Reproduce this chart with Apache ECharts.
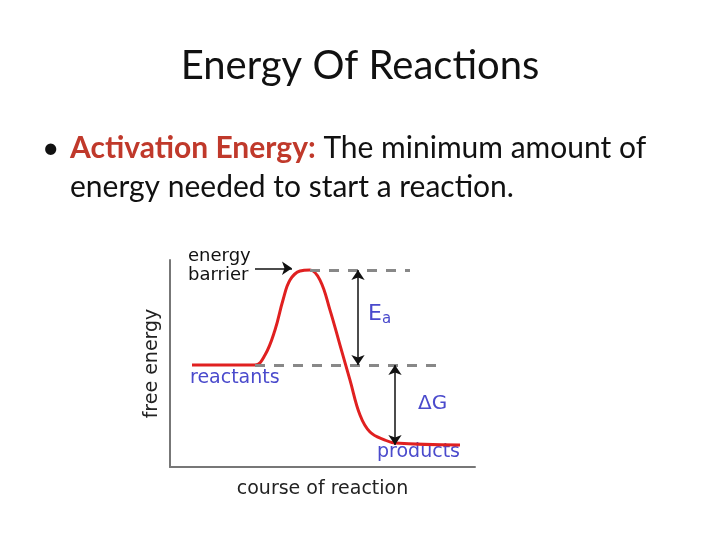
<!DOCTYPE html>
<html><head><meta charset="utf-8">
<script src="https://cdn.jsdelivr.net/npm/echarts@6/dist/echarts.min.js"></script>
<style>html,body{margin:0;padding:0;background:#fff}#c{width:720px;height:540px}</style>
</head><body><div id="c"></div>
<script>
const curveX = [22,85,95,105,113,120,130,140,150,160,170,180,190,200,215,225,290];
const curveY = [49.3,49.3,54.1,66.2,80.7,90.3,94.7,95.2,90.3,75.8,58.9,42,25.1,16.9,13,11.6,10.6];
const barrierLevel = 95.2, reactantLevel = 49.3, productLevel = 10.6;
const labels = {title:'Energy Of Reactions', term:'Activation Energy:', def1:' The minimum amount of', def2:'energy needed to start a reaction.'};

const chart = echarts.init(document.getElementById('c'));
const dash = {type:[10,9], color:'#888', width:3};
chart.setOption({
  animation:false,
  grid:{left:170,right:245,top:260,bottom:73},
  xAxis:{type:'value',min:0,max:305,axisLine:{lineStyle:{color:'#777',width:2}},axisTick:{show:false},axisLabel:{show:false},splitLine:{show:false},
    name:'course of reaction',nameLocation:'middle',nameGap:13,nameTextStyle:{fontSize:19,color:'#222',fontFamily:'DejaVu Sans'}},
  yAxis:{type:'value',min:0,max:100,axisLine:{lineStyle:{color:'#777',width:2}},axisTick:{show:false},axisLabel:{show:false},splitLine:{show:false},
    name:'free energy',nameLocation:'middle',nameGap:8,nameTextStyle:{fontSize:19,color:'#222',fontFamily:'DejaVu Sans'}},
  series:[
    {type:'line',data:curveX.map((x,i)=>[x,curveY[i]]),smooth:0.4,showSymbol:false,lineStyle:{color:'#e02020',width:3},z:3},
    {type:'line',data:[],markLine:{silent:true,symbol:['none','none'],label:{show:false},lineStyle:dash,data:[
      [{coord:[140,barrierLevel]},{coord:[240,barrierLevel]}],
      [{coord:[85,reactantLevel]},{coord:[275,reactantLevel]}]
    ]}},
    {type:'line',data:[],markLine:{silent:true,symbol:['arrow','arrow'],symbolSize:10,label:{show:false},lineStyle:{type:'solid',color:'#111',width:1.5},data:[
      [{coord:[188,barrierLevel]},{coord:[188,reactantLevel]}],
      [{coord:[225,reactantLevel]},{coord:[225,productLevel]}]
    ]}},
    {type:'line',data:[],markLine:{silent:true,symbol:['none','arrow'],symbolSize:10,label:{show:false},lineStyle:{type:'solid',color:'#111',width:1.5},data:[
      [{coord:[85,96]},{coord:[122,96]}]
    ]}}
  ],
  graphic:[
    {type:'text',left:'center',top:46,style:{text:labels.title,font:'40px Lato, "Open Sans", sans-serif',fill:'#111'}},
    {type:'text',left:42,top:133,style:{text:'•',font:'30px Lato, sans-serif',fill:'#111'}},
    {type:'text',left:70,top:133,style:{rich:{a:{font:'bold 30px Lato, sans-serif',fill:'#c0392b'},b:{font:'30px Lato, sans-serif',fill:'#111'}},text:'{a|'+labels.term+'}{b|'+labels.def1+'}'}},
    {type:'text',left:70,top:172,style:{text:labels.def2,font:'30px Lato, sans-serif',fill:'#111'}},
    {type:'text',left:188,top:247,style:{text:'energy\nbarrier',font:'18px "DejaVu Sans", sans-serif',lineHeight:19,fill:'#111'}},
    {type:'text',left:190,top:369,style:{text:'reactants',font:'19px "DejaVu Sans", sans-serif',fill:'#4a4acc'}},
    {type:'text',left:377,top:443,style:{text:'products',font:'19px "DejaVu Sans", sans-serif',fill:'#4a4acc'}},
    {type:'text',left:368,top:303,style:{rich:{e:{font:'22px "DejaVu Sans"',fill:'#4a4acc'},s:{font:'15px "DejaVu Sans"',fill:'#4a4acc',padding:[10,0,0,0]}},text:'{e|E}{s|a}'}},
    {type:'text',left:418,top:394,style:{text:'ΔG',font:'20px "DejaVu Sans", sans-serif',fill:'#4a4acc'}}
  ]
});
</script></body></html>
